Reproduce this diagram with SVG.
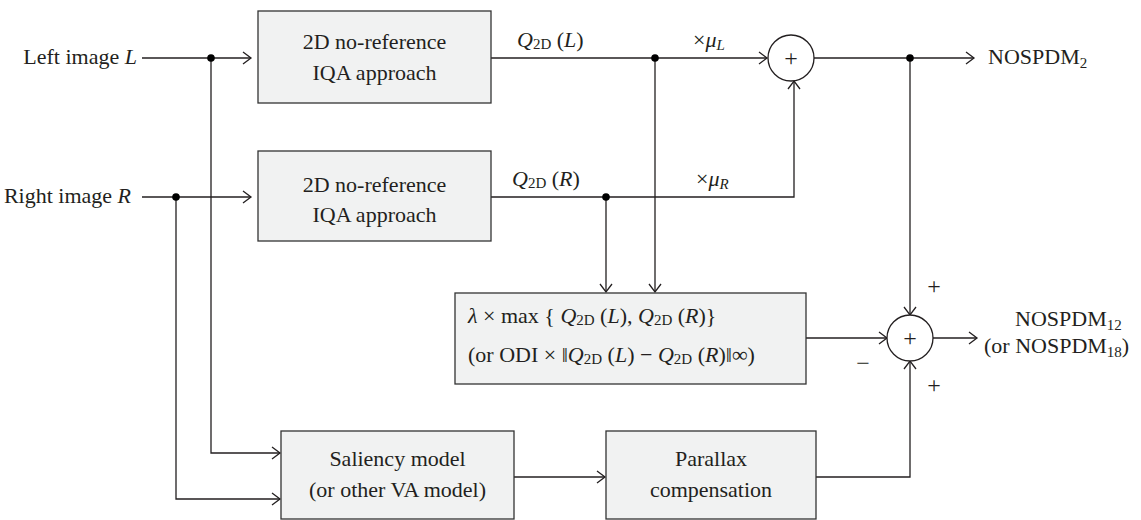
<svg xmlns="http://www.w3.org/2000/svg" width="1141" height="520" viewBox="0 0 1141 520">
<style>
text{font-family:"Liberation Serif","Times New Roman",serif;font-size:22px;fill:#231f20}
.i{font-style:italic}
.sub{font-size:15px}
.box{fill:#f1f2f2;stroke:#333;stroke-width:1.3}
.ln{fill:none;stroke:#231f20;stroke-width:1.3}
.c{fill:#fff;stroke:#231f20;stroke-width:1.3}
.mid{text-anchor:middle}
.end{text-anchor:end}
.sg{font-size:24px;fill:#231f20}
</style>
<defs>
<marker id="ar" viewBox="-10 -8 12 16" refX="0" refY="0" markerWidth="12" markerHeight="16" markerUnits="userSpaceOnUse" orient="auto">
<path d="M-8,-6 L0,0 L-8,6" fill="none" stroke="#231f20" stroke-width="1.3"/>
</marker>
</defs>

<g id="connectors">
<path class="ln" d="M142,58 H251" marker-end="url(#ar)"/>
<path class="ln" d="M142,197 H251" marker-end="url(#ar)"/>
<path class="ln" d="M491,58 H767" marker-end="url(#ar)"/>
<path class="ln" d="M491,197 H794 V81" marker-end="url(#ar)"/>
<path class="ln" d="M814,58 H974" marker-end="url(#ar)"/>
<path class="ln" d="M910,58 V315" marker-end="url(#ar)"/>
<path class="ln" d="M655,58 V292" marker-end="url(#ar)"/>
<path class="ln" d="M606,197 V292" marker-end="url(#ar)"/>
<path class="ln" d="M806,338 H887" marker-end="url(#ar)"/>
<path class="ln" d="M933,338 H977" marker-end="url(#ar)"/>
<path class="ln" d="M211,58 V453 H280" marker-end="url(#ar)"/>
<path class="ln" d="M176,197 V499 H280" marker-end="url(#ar)"/>
<path class="ln" d="M514,477 H605" marker-end="url(#ar)"/>
<path class="ln" d="M816,477 H910 V361" marker-end="url(#ar)"/>
<circle cx="211" cy="58" r="3.8" fill="#000"/>
<circle cx="176" cy="197" r="3.8" fill="#000"/>
<circle cx="655" cy="58" r="3.8" fill="#000"/>
<circle cx="606" cy="197" r="3.8" fill="#000"/>
<circle cx="910" cy="58" r="3.8" fill="#000"/>
<text x="517" y="47"><tspan class="i">Q</tspan><tspan class="sub" dy="2">2D</tspan><tspan dy="-2"> (</tspan><tspan class="i">L</tspan>)</text>
<text x="693" y="47">×<tspan class="i">μ</tspan><tspan class="i sub" dy="3">L</tspan></text>
<text x="512" y="186"><tspan class="i">Q</tspan><tspan class="sub" dy="2">2D</tspan><tspan dy="-2"> (</tspan><tspan class="i">R</tspan>)</text>
<text x="696" y="186">×<tspan class="i">μ</tspan><tspan class="i sub" dy="3">R</tspan></text>
<text class="sg mid" x="934" y="294">+</text>
<text class="sg mid" x="863" y="371">−</text>
<text class="sg mid" x="934" y="393">+</text>
</g>

<g id="in-left"><text class="end" x="137" y="64">Left image <tspan class="i">L</tspan></text></g>
<g id="in-right"><text class="end" x="131" y="203">Right image <tspan class="i">R</tspan></text></g>

<g id="iqa-left">
<rect class="box" x="258" y="11" width="233" height="92"/>
<text class="mid" x="374.5" y="49">2D no-reference</text>
<text class="mid" x="374.5" y="80">IQA approach</text>
</g>
<g id="iqa-right">
<rect class="box" x="258" y="151" width="233" height="90"/>
<text class="mid" x="374.5" y="192">2D no-reference</text>
<text class="mid" x="374.5" y="222">IQA approach</text>
</g>

<g id="sum1">
<circle class="c" cx="791" cy="58" r="23"/>
<text class="mid sg" x="791" y="66">+</text>
</g>
<g id="out1"><text x="988" y="64">NOSPDM<tspan class="sub" dy="4">2</tspan></text></g>

<g id="combine">
<rect class="box" x="455" y="293" width="351" height="91"/>
<text x="468" y="323"><tspan class="i">λ</tspan> × max { <tspan class="i">Q</tspan><tspan class="sub" dy="2">2D</tspan><tspan dy="-2"> (</tspan><tspan class="i">L</tspan>), <tspan class="i">Q</tspan><tspan class="sub" dy="2">2D</tspan><tspan dy="-2"> (</tspan><tspan class="i">R</tspan>)}</text>
<text x="468" y="362">(or ODI × ‖<tspan class="i">Q</tspan><tspan class="sub" dy="2">2D</tspan><tspan dy="-2"> (</tspan><tspan class="i">L</tspan>) − <tspan class="i">Q</tspan><tspan class="sub" dy="2">2D</tspan><tspan dy="-2"> (</tspan><tspan class="i">R</tspan>)‖∞)</text>
</g>

<g id="sum2">
<circle class="c" cx="910" cy="338" r="23"/>
<text class="mid sg" x="910" y="346">+</text>
</g>
<g id="out2">
<text x="1015" y="326">NOSPDM<tspan class="sub" dy="4">12</tspan></text>
<text x="984" y="353">(or NOSPDM<tspan class="sub" dy="4">18</tspan><tspan dy="-4">)</tspan></text>
</g>

<g id="saliency">
<rect class="box" x="281" y="431" width="233" height="88"/>
<text class="mid" x="397.5" y="466">Saliency model</text>
<text class="mid" x="397.5" y="497">(or other VA model)</text>
</g>
<g id="parallax">
<rect class="box" x="606" y="431" width="210" height="88"/>
<text class="mid" x="711" y="466">Parallax</text>
<text class="mid" x="711" y="497">compensation</text>
</g>
</svg>
